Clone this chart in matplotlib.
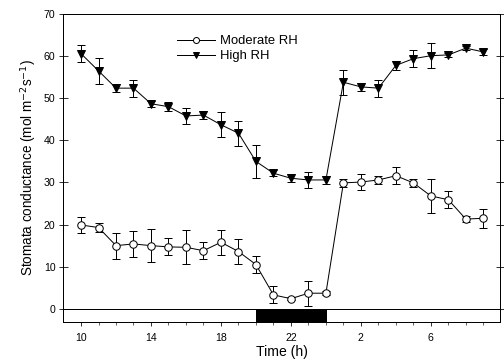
import numpy as np
import matplotlib.pyplot as plt
from matplotlib.patches import Rectangle
from matplotlib.lines import Line2D

plt.rcParams['font.family'] = ['Liberation Sans', 'DejaVu Sans']

# hours 10 .. 33 (33 = 9 h next day)
hours = np.arange(10, 34)

moderate = [19.9, 19.3, 15.0, 15.4, 15.0, 14.7, 14.6, 13.8, 15.8, 13.6, 10.5, 3.3,
            2.4, 3.7, 3.7, 29.9, 30.1, 30.6, 31.6, 29.9, 26.8, 25.9, 21.3, 21.5]
moderate_err = [2.0, 1.0, 3.1, 3.0, 4.0, 2.0, 4.0, 2.0, 3.0, 3.0, 2.0, 2.0,
                0.3, 3.0, 0.5, 1.0, 2.0, 1.0, 2.0, 1.0, 4.0, 2.0, 0.7, 2.3]

high = [60.6, 56.5, 52.4, 52.4, 48.7, 48.0, 45.8, 46.0, 43.7, 41.7, 35.0, 32.2,
        31.0, 30.6, 30.6, 53.8, 52.7, 52.4, 57.8, 59.4, 60.1, 60.3, 61.9, 61.0]
high_err = [2.0, 3.0, 1.0, 2.0, 0.7, 1.1, 2.0, 1.0, 3.0, 3.0, 4.0, 0.7,
            1.0, 2.0, 1.0, 3.0, 1.0, 2.0, 1.0, 2.0, 3.0, 0.5, 0.5, 0.7]

tick_pos = [10, 14, 18, 22, 26, 30]
tick_labels = ['10', '14', '18', '22', '2', '6']
night_start, night_end = 20, 24

fig = plt.figure(figsize=(7, 5), dpi=72)
ax = fig.add_axes([0.125, 0.106, 0.867, 0.855])

ax.errorbar(hours, moderate, yerr=moderate_err, color='black', lw=1, marker='o',
            ms=7.5, mfc='white', mec='black', mew=1, capsize=4, elinewidth=1, zorder=3)
ax.errorbar(hours, high, yerr=high_err, color='black', lw=1, marker='v',
            ms=8, mfc='black', mec='black', capsize=4, elinewidth=1, zorder=3)

xmin, xmax = 8.97, 33.95
ymin, ymax = -3.1, 70
ax.set_xlim(xmin, xmax)
ax.set_ylim(ymin, ymax)

# light/dark bar
ax.add_patch(Rectangle((xmin, ymin), xmax - xmin, -ymin, fc='white', ec='black', lw=1, zorder=2))
ax.add_patch(Rectangle((night_start, ymin), night_end - night_start, -ymin, fc='black', ec='black', lw=1, zorder=2))

ax.set_xticks(tick_pos)
ax.set_xticklabels(tick_labels)
ax.set_xticks(hours, minor=True)
ax.set_yticks(np.arange(0, 71, 10))

ax.tick_params(axis='x', which='both', direction='out', labelsize=10.5, pad=7)
ax.tick_params(axis='x', which='major', length=4)
ax.tick_params(axis='x', which='minor', length=3)
ax.tick_params(axis='y', which='major', direction='inout', length=9, labelsize=10.5,
               right=True, pad=3)

for s in ax.spines.values():
    s.set_linewidth(1)

ax.set_xlabel('Time (h)', fontsize=14, labelpad=2)
ax.set_ylabel('Stomata conductance (mol m$^{-2}$s$^{-1}$)', fontsize=13.5, labelpad=6)

handles = [
    Line2D([], [], color='black', lw=1, marker='o', ms=6, mfc='white', mec='black'),
    Line2D([], [], color='black', lw=1, marker='v', ms=6.5, mfc='black', mec='black'),
]
ax.legend(handles, ['Moderate RH', 'High RH'], loc='upper left',
          bbox_to_anchor=(0.235, 0.97), frameon=False, fontsize=13,
          handlelength=2.9, handletextpad=0.4, labelspacing=0.25)

fig.savefig('out.png', dpi=72)
